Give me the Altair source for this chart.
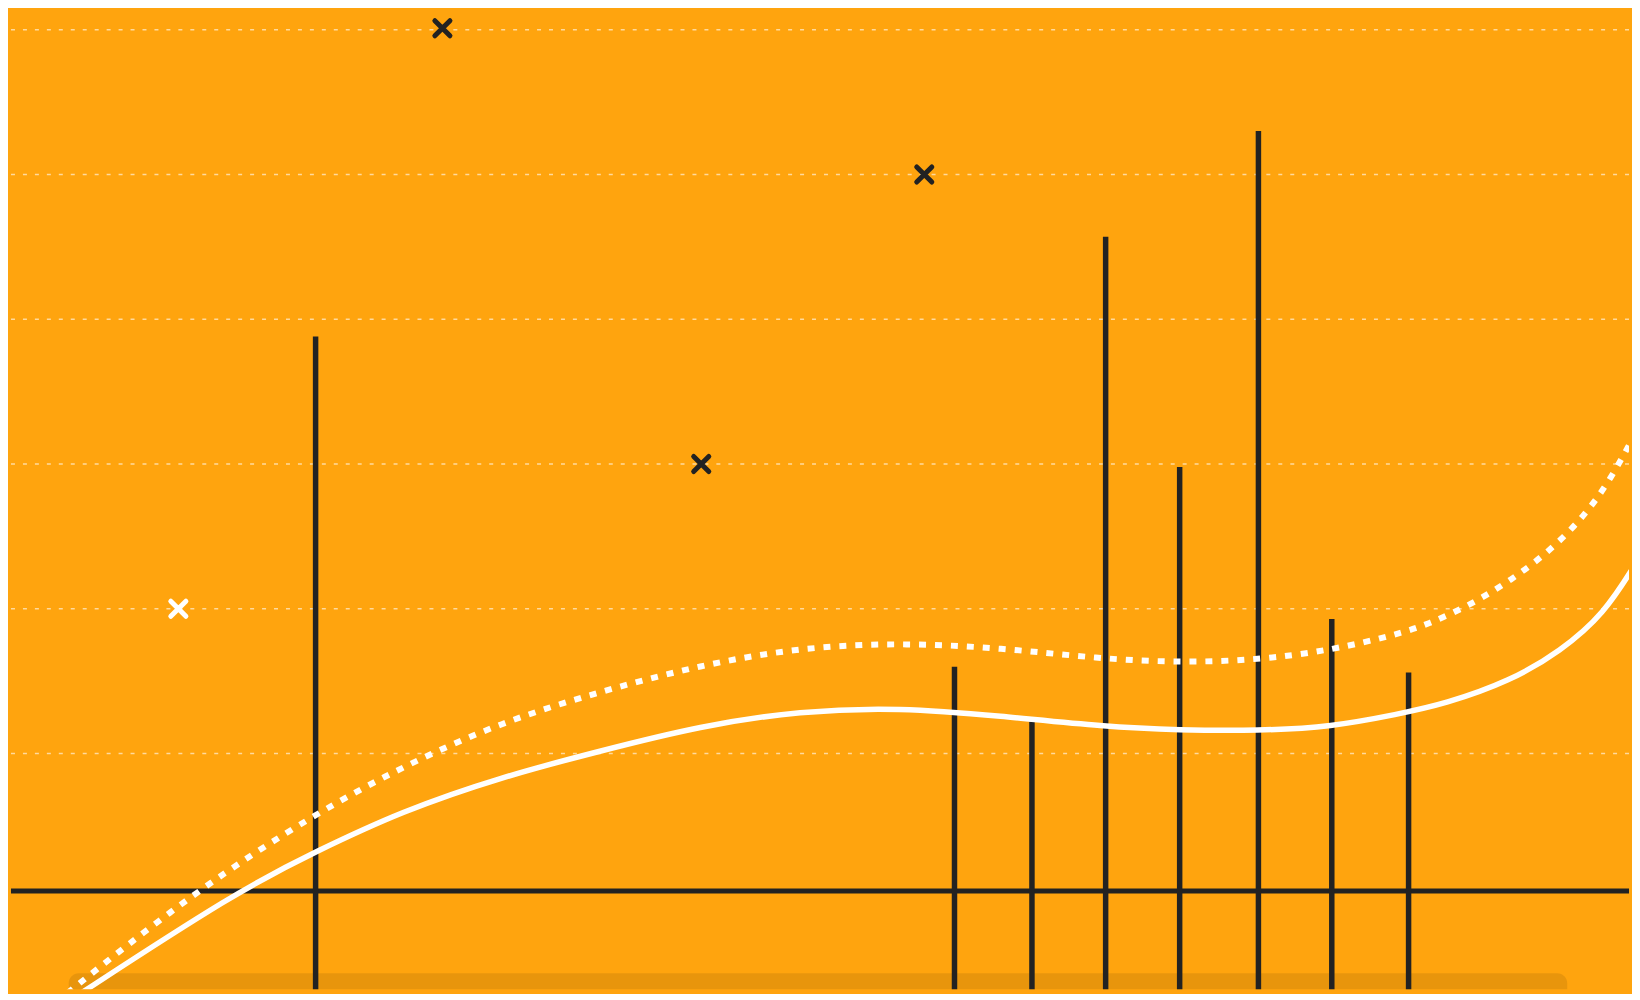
import altair as alt
import pandas as pd

# ---- data (x in % of width, y in grid units) ----
grid_y = [1, 2, 3, 4, 5, 6]
baseline_y = [0.05]

bar_x = [19.13, 58.23, 62.97, 67.48, 72.01, 76.83, 81.32, 86.02]
bar_top = [3.88, 1.60, 1.22, 4.57, 2.98, 5.30, 1.93, 1.56]

cross_x = [26.89, 56.38, 42.73, 10.73]
cross_y = [6.01, 5.0, 3.0, 2.0]
cross_kind = ["dark", "dark", "dark", "light"]

solid_x = [3.84, 14.33, 19.13, 24.39, 30.49, 36.59, 42.68, 48.78, 54.88,
           60.98, 67.48, 71.95, 76.83, 81.30, 85.37, 88.21, 92.27, 95.32, 97.97, 100.0]
solid_y = [-0.724, 0.049, 0.322, 0.601, 0.838, 1.019, 1.191, 1.295, 1.318,
           1.260, 1.184, 1.162, 1.157, 1.184, 1.272, 1.341, 1.501, 1.708, 1.960, 2.327]

dotted_x = [3.17, 11.79, 19.21, 24.39, 30.49, 36.59, 42.68, 48.78, 54.88,
            60.98, 67.07, 71.95, 76.83, 81.28, 85.16, 87.20, 89.84, 92.28, 94.71, 96.75,
            98.37, 100.0]
dotted_y = [-0.724, 0.056, 0.590, 0.907, 1.217, 1.430, 1.611, 1.733, 1.765,
            1.731, 1.655, 1.628, 1.646, 1.714, 1.818, 1.891, 2.029, 2.196, 2.403,
            2.637, 2.889, 3.233]

band_x = [4.02]
band_x2 = [95.73]
band_y = [-0.518]
band_y2 = [-1.2]

W, H = 1624, 978
BG = "#FFA40E"
DARK = "#222222"

xs = alt.Scale(domain=[0.4878, 99.51], nice=False, zero=False)
ys = alt.Scale(domain=[-0.628, 6.103], nice=False, zero=False)

grid_df = pd.DataFrame({"y": grid_y})
base_df = pd.DataFrame({"y": baseline_y})
bar_df = pd.DataFrame({"x": bar_x, "y": bar_top})
cross_df = pd.DataFrame({"x": cross_x, "y": cross_y, "kind": cross_kind})
solid_df = pd.DataFrame({"x": solid_x, "y": solid_y})
dotted_df = pd.DataFrame({"x": dotted_x, "y": dotted_y})
band_df = pd.DataFrame({"x": band_x, "x2": band_x2, "y": band_y, "y2": band_y2})

grid = alt.Chart(grid_df).mark_rule(
    color="white", opacity=0.6, strokeWidth=1.5, strokeDash=[4, 8]
).encode(y=alt.Y("y:Q", scale=ys, axis=None))

band = alt.Chart(band_df).mark_rect(
    color="black", opacity=0.09, cornerRadius=10, clip=True
).encode(
    x=alt.X("x:Q", scale=xs, axis=None), x2="x2:Q",
    y=alt.Y("y:Q", scale=ys, axis=None), y2="y2:Q",
)

base = alt.Chart(base_df).mark_rule(color=DARK, strokeWidth=5).encode(
    y=alt.Y("y:Q", scale=ys, axis=None)
)

bars = alt.Chart(bar_df).mark_rule(color=DARK, strokeWidth=5.5).encode(
    x=alt.X("x:Q", scale=xs, axis=None),
    y=alt.Y("y:Q", scale=ys, axis=None),
    y2=alt.value(H),
)

solid = alt.Chart(solid_df).mark_line(
    color="white", strokeWidth=5.5, interpolate="basis", clip=True
).encode(x=alt.X("x:Q", scale=xs, axis=None), y=alt.Y("y:Q", scale=ys, axis=None))

dotted = alt.Chart(dotted_df).mark_line(
    color="white", strokeWidth=6, strokeDash=[7, 9], strokeCap="butt",
    interpolate="basis", clip=True
).encode(x=alt.X("x:Q", scale=xs, axis=None), y=alt.Y("y:Q", scale=ys, axis=None))

crosses = alt.Chart(cross_df).mark_point(
    shape="M-1,-1L1,1M1,-1L-1,1", filled=False, size=230, strokeWidth=5,
    strokeCap="round", opacity=1
).encode(
    x=alt.X("x:Q", scale=xs, axis=None),
    y=alt.Y("y:Q", scale=ys, axis=None),
    color=alt.Color("kind:N", scale=alt.Scale(domain=["dark", "light"], range=[DARK, "white"]), legend=None),
)

chart = alt.layer(grid, band, base, bars, solid, dotted, crosses).properties(
    width=W, height=H, padding=0, background=BG
).configure_view(stroke=None)

chart.save("out.html", embed_options={"renderer": "svg", "actions": False})
